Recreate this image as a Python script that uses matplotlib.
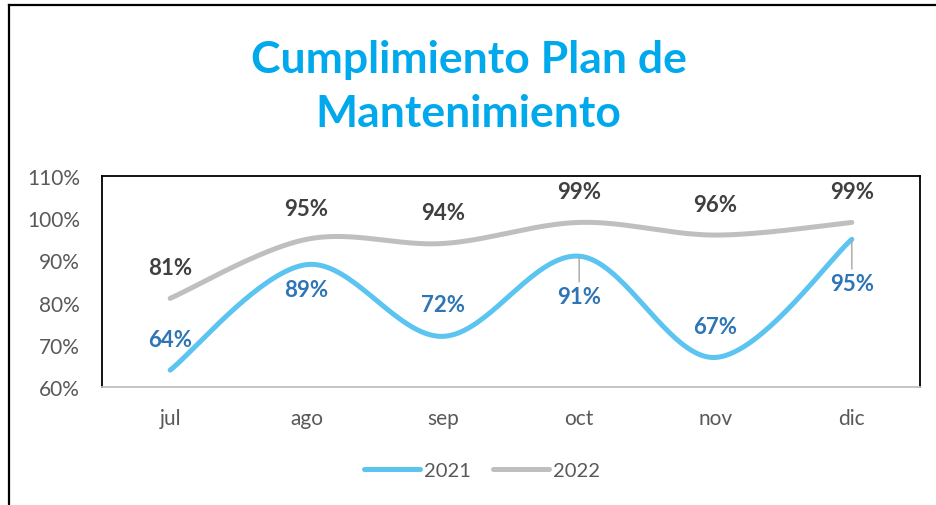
import numpy as np
import matplotlib
matplotlib.use("Agg")
import matplotlib.pyplot as plt
from matplotlib.lines import Line2D

plt.rcParams["font.family"] = ["Lato", "DejaVu Sans"]

# ── data ────────────────────────────────────────────────────────────────
months = ["jul", "ago", "sep", "oct", "nov", "dic"]
vals_2021 = [64, 89, 72, 91, 67, 95]
vals_2022 = [81, 95, 94, 99, 96, 99]
y_ticks = [60, 70, 80, 90, 100, 110]

# label offsets (points) and which labels get a leader line
off_2021 = [22, -18, 23, -29, 22, -32]
lead_2021 = [False, False, False, True, False, True]
off_2022 = [22, 22, 22, 22, 22, 22]

C21 = "#5BC4F0"
C22 = "#BFBFBF"
LBL21 = "#2E75B6"
LBL22 = "#404040"
TICK = "#595959"


def smooth(y, n=40):
    """Excel-like smoothed line (Catmull-Rom as cubic Bezier)."""
    x = np.arange(len(y), dtype=float)
    y = np.asarray(y, dtype=float)
    P = np.column_stack([x, y])
    P = np.vstack([P[0], P, P[-1]])
    out = []
    t = np.linspace(0, 1, n)[:, None]
    for i in range(1, len(P) - 2):
        p0, p1, p2, p3 = P[i - 1], P[i], P[i + 1], P[i + 2]
        c1 = p1 + (p2 - p0) / 6.0
        c2 = p2 - (p3 - p1) / 6.0
        seg = ((1 - t) ** 3) * p1 + 3 * ((1 - t) ** 2) * t * c1 + 3 * (1 - t) * t ** 2 * c2 + t ** 3 * p2
        out.append(seg if i == 1 else seg[1:])
    out = np.vstack(out)
    return out[:, 0], out[:, 1]


fig = plt.figure(figsize=(9.37, 5.06), dpi=100)
ax = fig.add_axes([102 / 937, 1 - 388 / 506, 818 / 937, 211 / 506])

xs = np.arange(len(months))
for vals, col, lab in [(vals_2021, C21, "2021"), (vals_2022, C22, "2022")]:
    sx, sy = smooth(vals)
    ax.plot(sx, sy, color=col, lw=3.6, solid_capstyle="round", label=lab)

for i, v in enumerate(vals_2022):
    ax.annotate(f"{v}%", (xs[i], v), xytext=(0, off_2022[i]), textcoords="offset points",
                ha="center", va="center", fontsize=16, fontweight="bold", color=LBL22)

for i, v in enumerate(vals_2021):
    kw = {}
    if lead_2021[i]:
        kw["arrowprops"] = dict(arrowstyle="-", color="#A6A6A6", lw=1.0,
                                shrinkA=1, shrinkB=1, relpos=(0.5, 1.0))
    ax.annotate(f"{v}%", (xs[i], v), xytext=(0, off_2021[i]), textcoords="offset points",
                ha="center", va="center", fontsize=16, fontweight="bold", color=LBL21, **kw)

ax.set_xlim(-0.5, len(months) - 0.5)
ax.set_ylim(60, 110)
ax.set_xticks(xs)
ax.set_xticklabels(months)
ax.set_yticks(y_ticks)
ax.set_yticklabels([f"{t}%" for t in y_ticks])
ax.tick_params(axis="both", length=0, labelsize=15, labelcolor=TICK)
ax.tick_params(axis="y", pad=16)
ax.tick_params(axis="x", pad=15)

for side in ["left", "top", "right"]:
    ax.spines[side].set_color("black")
    ax.spines[side].set_linewidth(1.3)
ax.spines["bottom"].set_color("#BFBFBF")
ax.spines["bottom"].set_linewidth(1.3)

handles = [Line2D([], [], color=C21, lw=3.6, solid_capstyle="round"),
           Line2D([], [], color=C22, lw=3.6, solid_capstyle="round")]
fig.legend(handles, ["2021", "2022"], loc="center", bbox_to_anchor=(482 / 937, 1 - 471 / 506),
           ncol=2, frameon=False, fontsize=14.5, handlelength=2.8, handletextpad=0.2,
           columnspacing=1.1, labelcolor=TICK)

fig.text(0.5, 1 - 87 / 506, "Cumplimiento Plan de\nMantenimiento", ha="center", va="center",
         fontsize=32, fontweight="bold", color="#00A9EC", linespacing=1.45)

# chart-area border (top and left edges visible in the crop)
fig.add_artist(Line2D([9 / 937, 9 / 937], [0, 1 - 6 / 506], color="black", lw=1.6,
                      transform=fig.transFigure))
fig.add_artist(Line2D([9 / 937, 1], [1 - 6 / 506, 1 - 6 / 506], color="black", lw=1.6,
                      transform=fig.transFigure))

fig.savefig("out.png", dpi=100)
